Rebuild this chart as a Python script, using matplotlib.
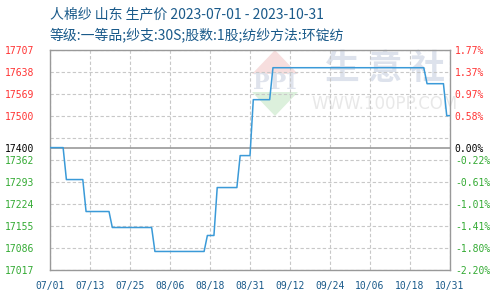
import numpy as np
import pandas as pd
import matplotlib
matplotlib.use("Agg")
import matplotlib.pyplot as plt
from matplotlib.patches import Polygon

plt.rcParams["font.family"] = ["Noto Sans CJK SC", "DejaVu Sans"]

title1 = "人棉纱 山东 生产价 2023-07-01 - 2023-10-31"
title2 = "等级:一等品;纱支:30S;股数:1股;纺纱方法:环锭纺"

# price observations (value held between consecutive change dates)
dates = ["2023-07-01", "2023-07-05", "2023-07-06", "2023-07-11", "2023-07-12",
         "2023-07-19", "2023-07-20", "2023-08-01", "2023-08-02", "2023-08-17",
         "2023-08-18", "2023-08-20", "2023-08-21", "2023-08-27", "2023-08-28",
         "2023-08-31", "2023-09-01", "2023-09-06", "2023-09-07", "2023-10-23",
         "2023-10-24", "2023-10-29", "2023-10-30", "2023-10-31"]
prices = [17400, 17400, 17300, 17300, 17200,
          17200, 17150, 17150, 17075, 17075,
          17125, 17125, 17275, 17275, 17375,
          17375, 17550, 17550, 17650, 17650,
          17600, 17600, 17500, 17500]

base = 17400
left_ticks = [17017, 17086, 17155, 17224, 17293, 17362, 17400, 17500, 17569, 17638, 17707]
right_labels = ["-2.20%", "-1.80%", "-1.41%", "-1.01%", "-0.61%", "-0.22%", "0.00%",
                "0.58%", "0.97%", "1.37%", "1.77%"]
grid_levels = [17017, 17086, 17155, 17224, 17293, 17362, 17431, 17500, 17569, 17638, 17707]
x_labels = ["07/01", "07/13", "07/25", "08/06", "08/18", "08/31",
            "09/12", "09/24", "10/06", "10/18", "10/31"]

start = pd.Timestamp("2023-07-01")
end = pd.Timestamp("2023-10-31")
days = (pd.to_datetime(dates) - start).days.values
span = (end - start).days

red = "#ff3333"
green = "#33aa33"
blue_txt = "#1a5a8a"

fig = plt.figure(figsize=(5, 3), dpi=100)
ax = fig.add_axes([0.1, 0.1, 0.8, 0.735])

ax.set_xlim(0, span)
ax.set_ylim(17017, 17707)

# grid
xt = np.linspace(0, span, len(x_labels))
for g in grid_levels:
    ax.axhline(g, color="#c8c8c8", lw=0.8, ls=(0, (3, 2)), zorder=1)
for x in xt:
    ax.axvline(x, color="#c8c8c8", lw=0.8, ls=(0, (3, 2)), zorder=1)
ax.axhline(base, color="#999999", lw=1.2, zorder=2)

# watermark
def axp(px, py):
    return ((px - 50) / 400.0, (270 - py) / 220.5)

top = [axp(252, 74), axp(275, 50), axp(298, 74)]
bot = [axp(252, 92), axp(275, 116), axp(298, 92)]
ax.add_patch(Polygon(top, closed=True, transform=ax.transAxes, color="#f7dede", lw=0, zorder=0))
ax.add_patch(Polygon(bot, closed=True, transform=ax.transAxes, color="#dcf0dc", lw=0, zorder=0))
ax.text(*axp(275, 83), "PPI", transform=ax.transAxes, ha="center", va="center",
        fontsize=16, color="#dfe3ec", fontweight="bold", family="DejaVu Serif", zorder=0)
ax.text(*axp(385, 68), "生 意 社", transform=ax.transAxes, ha="center", va="center",
        fontsize=25, color="#dde2ec", fontweight="bold", zorder=0)
ax.text(*axp(385, 104), "WWW.100PP.COM", transform=ax.transAxes, ha="center", va="center",
        fontsize=12, color="#e8e8e8", family="DejaVu Sans", zorder=0)

ax.plot(days, prices, color="#3a9ad8", lw=1.1, zorder=3)

for s in ax.spines.values():
    s.set_color("#999999")
    s.set_linewidth(1.0)

mono = "DejaVu Sans Mono"
ax.set_yticks(left_ticks)
ax.set_yticklabels([str(t) for t in left_ticks], family=mono, fontsize=7)
for lab, t in zip(ax.get_yticklabels(), left_ticks):
    lab.set_color(red if t > base else ("black" if t == base else green))
ax.tick_params(axis="y", length=0, pad=11)

ax.set_xticks(xt)
ax.set_xticklabels(x_labels, family=mono, fontsize=7, color=blue_txt)
ax.tick_params(axis="x", length=0, pad=8)

ax2 = ax.twinx()
ax2.set_ylim(ax.get_ylim())
ax2.set_yticks(left_ticks)
ax2.set_yticklabels(right_labels, family=mono, fontsize=7)
for lab, t in zip(ax2.get_yticklabels(), left_ticks):
    lab.set_color(red if t > base else ("black" if t == base else green))
ax2.tick_params(axis="y", length=0, pad=3.5)
for s in ax2.spines.values():
    s.set_visible(False)

fig.text(0.1, 0.953, title1, fontsize=10, color=blue_txt, va="center", ha="left")
fig.text(0.1, 0.883, title2, fontsize=10, color=blue_txt, va="center", ha="left")

fig.savefig("out.png", dpi=100)
